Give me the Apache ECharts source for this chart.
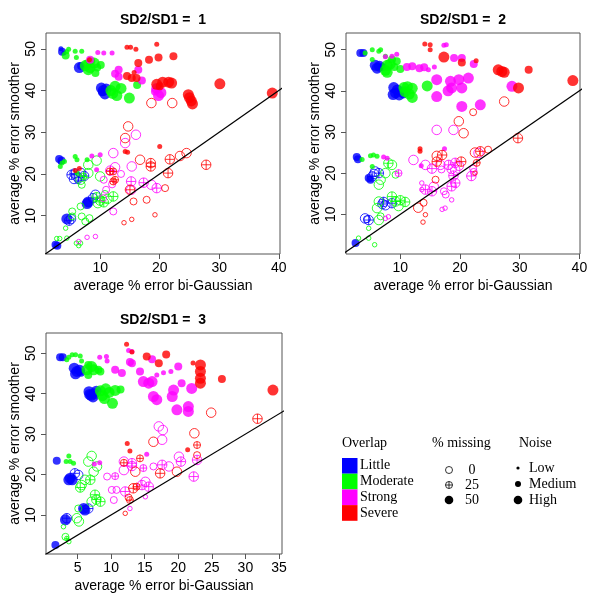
<!DOCTYPE html>
<html>
<head>
<meta charset="utf-8">
<script src="https://cdn.jsdelivr.net/npm/echarts@6/dist/echarts.min.js"></script>
<style>html,body{margin:0;padding:0;background:#fff}#c{width:600px;height:600px}</style>
</head>
<body>
<div id="c"></div>
<script>
// point format: [bi-Gaussian error, smoother error, % missing, noise level (1 Low, 2 Medium, 3 High)]
const panelTitles = ['SD2/SD1 =  1', 'SD2/SD1 =  2', 'SD2/SD1 =  3'];
const overlapLabels = ['Little', 'Moderate', 'Strong', 'Severe'];
const missingLabels = ['0', '25', '50'];
const noiseLabels = ['Low', 'Medium', 'High'];
const xTicks12 = [10, 20, 30, 40];
const xTicks3 = [5, 10, 15, 20, 25, 30, 35];
const yTicks = [10, 20, 30, 40, 50];
const identityRange = [0, 60];

const p1Little = [
 [3.4,50.0,50,1],[3.6,49.3,50,2],[3.9,49.0,50,1],
 [6.5,45.5,50,3],[6.8,45.9,50,2],
 [10.2,40.6,50,3],[10.5,40.0,50,3],[10.8,39.2,50,3],[11.0,40.4,50,3],[10.3,39.6,50,2],
 [3.1,23.6,50,2],[3.5,23.2,50,2],[3.3,22.8,50,1],
 [5.2,19.8,25,3],[5.7,20.1,25,3],[6.2,19.2,0,3],[6.8,20.2,0,3],[7.3,19.5,25,3],[5.6,18.8,0,3],[6.3,18.5,25,2],
 [8.0,13.3,50,3],[7.8,12.9,50,3],[8.8,14.2,25,3],[9.2,15.0,0,3],
 [4.4,9.2,50,3],[4.8,8.8,25,3],[5.1,9.2,0,3],
 [2.5,3.0,50,2],[2.8,2.8,50,2]
];
const p1Moderate = [
 [4.7,49.9,50,1],[4.4,49.3,50,1],[4.2,48.4,50,2],[5.8,49.4,50,1],[6.9,49.4,50,1],[6.0,47.9,50,1],
 [7.5,46.0,50,3],[8.3,45.5,50,3],[9.0,46.6,50,3],[9.5,45.5,50,2],[10.1,46.1,50,2],[8.5,47.0,50,2],[9.2,44.2,50,2],[8.0,45.0,50,3],[7.8,46.5,50,2],
 [11.8,40.0,50,3],[12.5,41.0,50,3],[13.5,40.5,50,3],[12.8,38.8,50,3],[14.9,38.2,50,3],[16.2,41.3,50,2],[12.1,39.3,50,3],
 [5.8,24.2,50,1],[6.1,23.4,50,1],[3.3,21.8,50,1],[3.6,22.6,50,1],[7.8,23.4,50,1],[6.1,20.2,50,1],[4.0,23.0,50,1],
 [8.0,22.2,0,3],[9.4,23.2,0,3],[8.0,20.2,0,3],[10.0,19.4,0,3],[6.7,18.6,0,3],[6.9,17.4,0,2],[7.2,19.4,25,2],
 [9.4,14.4,25,3],[10.0,13.6,25,3],[10.6,13.2,25,3],[11.2,14.0,0,3],[12.2,14.6,25,3],[9.6,13.0,0,3],[10.8,15.2,0,2],
 [6.7,12.2,0,2],[5.3,11.0,0,2],[5.3,9.8,0,2],[6.9,9.8,0,2],[8.2,9.4,0,2],[7.5,8.6,0,2],
 [4.2,7.0,0,1],[2.7,4.5,0,1],[3.2,4.5,0,1],[4.4,4.6,0,1],[6.0,3.4,0,1],[6.7,3.4,0,1],[6.4,2.8,0,1]
];
const p1Strong = [
 [9.6,49.1,50,1],[10.6,49.0,50,1],[12.0,49.0,50,1],[8.3,47.4,50,2],[12.5,44.0,50,2],[16.4,45.0,50,2],[17.0,42.4,50,2],[13.1,45.0,50,2],[13.1,43.3,50,2],
 [19.5,40.5,50,3],[19.8,38.8,50,3],[20.2,39.5,50,3],[19.2,39.8,50,2],
 [8.6,24.3,50,1],[10.0,24.6,50,1],[9.4,21.0,50,1],
 [14.2,27.4,0,3],[16.0,29.4,0,3],[12.2,25.0,0,3],
 [10.6,18.6,0,2],[11.7,20.8,25,3],[12.5,21.6,0,3],[13.5,20.0,0,2],[12.0,17.5,0,2],[11.0,16.2,0,2],
 [15.3,21.8,0,3],[15.2,18.2,25,3],[15.2,16.2,0,3],[17.3,17.9,25,3],[18.6,17.4,0,3],[19.5,16.6,25,3],
 [12.2,11.0,0,2],[10.5,14.2,0,2],
 [7.8,4.8,0,1],[9.2,5.0,0,1],[6.4,3.8,0,1]
];
const p1Severe = [
 [14.5,50.4,50,1],[15.1,50.4,50,1],[16.0,49.9,50,1],[19.5,51.1,50,1],
 [16.4,46.6,50,2],[18.2,47.4,50,2],[19.8,47.9,50,2],[22.3,48.2,50,2],
 [14.5,43.5,50,2],[15.3,43.0,50,2],[16.1,43.0,50,2],[15.7,44.3,50,1],[8.2,47.4,50,1],
 [19.5,41.5,50,3],[20.5,42.0,50,3],[21.5,42.0,50,3],[22.0,41.8,50,3],[20.0,41.0,50,2],
 [24.8,39.0,50,3],[25.0,38.3,50,3],[25.3,37.5,50,3],[25.5,36.8,50,3],
 [30.1,41.6,50,3],[38.9,39.4,50,3],
 [18.6,37.0,0,3],[22.1,37.0,0,3],
 [14.7,31.4,0,3],[14.2,28.6,0,3],
 [20.0,26.6,50,1],[14.2,25.4,50,1],[14.6,25.2,50,1],
 [21.7,23.5,25,3],[23.4,24.3,0,3],[24.5,25.0,0,3],[27.8,22.2,25,3],[18.5,22.6,25,3],[18.5,21.8,25,3],[16.7,23.4,0,3],[21.4,20.2,25,3],
 [20.9,16.6,0,2],[15.0,16.2,25,3],[15.6,13.4,0,2],[17.8,13.8,0,2],
 [14.0,8.3,0,1],[15.3,9.1,0,1],[19.2,10.2,0,1],
 [11.6,20.6,25,2],[12.2,20.6,25,2],[12.5,18.6,25,2],[12.2,18.2,25,2],
 [5.8,20.8,50,1],[6.5,21.3,50,1]
];

const p2Little = [
 [3.3,49.2,50,2],[3.8,49.2,50,2],
 [5.8,46.2,50,3],[6.5,46.0,50,3],[7.0,45.8,50,2],[6.1,45.5,50,3],
 [8.9,40.8,50,3],[9.2,39.5,50,3],[8.8,39.1,50,3],[9.8,39.0,50,3],[10.5,39.5,50,3],[9.5,40.2,50,3],
 [2.7,23.9,50,2],[2.9,23.4,50,2],
 [4.7,18.8,50,2],[5.0,18.4,50,2],[5.3,19.2,25,3],[5.8,20.4,0,3],[6.4,20.0,25,3],[5.6,19.8,0,3],
 [7.0,12.5,25,3],[7.5,12.2,0,3],[7.2,13.0,25,3],[8.6,12.7,25,3],
 [4.1,9.0,0,3],[4.7,8.6,25,3],[4.4,8.8,0,2],
 [2.5,3.0,50,2]
];
const p2Moderate = [
 [4.1,49.2,50,1],[5.3,50.0,50,1],[6.4,49.6,50,1],[6.7,50.0,50,1],[5.3,47.6,50,1],[7.5,48.4,50,1],[8.6,47.6,50,2],[9.4,47.2,50,2],
 [7.8,46.2,50,3],[7.5,45.0,50,3],[8.3,46.5,50,3],[9.0,45.8,50,2],[10.0,45.3,50,2],[7.8,44.5,50,3],
 [10.6,40.8,50,3],[11.2,41.0,50,3],[12.0,40.6,50,3],[11.5,39.2,50,3],[12.0,38.4,50,3],[10.8,39.8,50,3],[14.5,41.2,50,3],
 [5.0,24.2,50,1],[5.5,24.4,50,1],[6.1,24.1,50,1],[3.6,23.3,50,1],[5.3,21.6,50,1],
 [8.0,22.4,25,3],[8.6,22.0,0,3],[7.5,20.0,0,3],[6.7,18.4,0,3],[6.4,17.2,0,3],[9.2,19.6,0,2],
 [8.6,14.3,25,3],[9.2,13.1,25,3],[10.0,13.4,25,3],[10.8,13.0,25,3],[9.7,12.0,0,3],
 [6.4,13.1,0,3],[6.1,11.5,0,3],[6.4,8.6,0,3],[6.7,9.5,0,2],
 [4.7,6.6,0,1],[3.0,4.2,0,1],[5.7,2.6,0,1],[4.7,4.2,0,1]
];
const p2Strong = [
 [8.6,48.4,50,1],[9.4,48.9,50,1],[7.5,48.3,50,1],
 [11.1,45.8,50,2],[12.0,46.0,50,2],[13.2,45.5,50,2],[14.0,45.7,50,2],[15.7,45.8,50,1],[14.7,45.1,50,1],
 [17.3,51.1,50,1],[17.7,51.2,50,1],
 [16.1,42.7,50,3],[18.4,42.3,50,3],[18.6,40.7,50,3],[19.8,42.7,50,3],[21.4,43.1,50,3],[16.1,38.6,50,3],[20.3,40.7,50,3],[18.0,40.0,50,3],[20.3,36.2,50,3],[23.4,36.6,50,3],[28.7,41.1,50,3],
 [22.3,46.5,50,2],[19.0,48.0,50,2],[20.3,48.0,50,2],
 [16.1,30.5,0,3],[18.9,30.5,0,3],
 [7.2,23.9,50,1],[7.8,23.6,50,1],[13.5,21.8,50,1],[17.4,25.9,50,1],
 [12.2,23.2,0,3],[14.2,22.0,0,3],[15.3,21.1,25,3],[16.7,22.0,0,3],[16.9,20.9,0,2],[18.1,22.0,25,3],[18.6,21.0,0,3],[19.2,22.5,25,3],[19.8,21.8,0,3],
 [9.7,20.0,25,2],[14.2,16.0,25,3],[15.6,16.7,0,3],[15.3,15.6,25,3],[17.3,15.6,0,2],[17.6,14.8,0,2],[19.2,17.6,25,3],[18.6,16.8,25,3],[18.9,19.4,25,3],[19.2,20.8,0,3],
 [23.1,24.9,0,3],[21.9,19.3,25,3],[22.3,20.3,0,2],[22.2,21.1,0,2],
 [18.6,13.5,0,1],[17.5,11.5,0,1],[17.0,11.2,0,1],[13.6,17.6,0,1],[13.6,16.0,0,1],[8.0,9.4,0,1],[7.5,9.0,0,1]
];
const p2Severe = [
 [14.1,51.4,50,1],[15.0,51.2,50,1],[15.0,50.0,50,1],
 [17.3,48.2,50,3],[20.3,46.9,50,2],[22.7,47.3,50,1],
 [26.4,45.1,50,3],[27.0,44.7,50,3],[27.4,44.5,50,3],[31.5,45.1,50,2],[29.8,40.7,50,3],[38.9,42.5,50,3],
 [27.4,37.4,0,3],[22.2,34.8,0,2],[19.8,32.6,0,3],[20.6,29.7,0,3],
 [13.3,25.9,50,1],[13.3,25.3,50,1],
 [16.1,24.2,0,3],[17.0,24.4,25,3],[16.1,22.8,25,3],[20.2,22.8,25,3],[23.4,25.3,25,3],[24.7,25.7,0,2],[22.5,25.0,0,3],[29.7,28.5,25,3],
 [22.5,20.0,0,1],[22.8,22.5,25,2],[15.9,18.4,0,2],[13.0,11.6,0,3],[13.9,12.8,0,2],[14.2,9.9,0,1],[13.8,8.1,0,1]
];

const p3Little = [
 [2.4,49.0,50,2],[2.8,49.0,50,2],
 [4.5,46.3,50,3],[4.9,45.5,50,3],[5.3,45.8,50,3],[4.7,44.9,50,3],[5.5,45.2,50,2],
 [6.7,40.5,50,3],[7.0,39.6,50,3],[7.5,40.0,50,3],[7.8,40.6,50,3],[7.3,39.2,50,3],[6.8,39.8,50,3],
 [1.9,23.4,50,2],
 [3.9,19.1,50,3],[3.7,18.7,50,3],[4.2,18.7,50,3],[4.6,20.3,25,3],[5.1,19.9,0,3],
 [5.9,11.6,50,3],[6.1,11.2,50,3],[6.6,11.6,25,3],
 [3.2,8.8,50,3],[3.4,9.2,25,3],
 [1.7,2.6,50,2]
];
const p3Moderate = [
 [3.7,49.0,50,1],[4.2,49.6,50,1],[4.7,49.6,50,1],[5.4,49.3,50,1],[3.4,48.4,50,1],[5.6,48.1,50,1],
 [6.6,47.1,50,2],[7.1,46.7,50,3],[6.4,45.9,50,3],[7.4,45.9,50,3],[8.1,45.9,50,2],[6.6,44.6,50,2],[8.4,45.5,50,2],
 [8.4,40.7,50,3],[9.2,41.2,50,3],[9.7,40.3,50,3],[10.6,40.8,50,3],[11.4,41.0,50,2],[9.0,38.8,50,3],[10.2,37.6,50,3],[8.7,39.5,50,3],
 [3.7,24.6,50,1],[3.9,23.2,50,1],[3.3,23.2,50,1],[4.4,22.8,50,1],
 [6.6,23.2,0,3],[7.1,24.6,0,3],[7.9,22.0,0,3],[7.4,20.7,0,3],[6.1,18.7,0,3],[5.6,17.4,0,3],[5.4,16.8,25,3],[6.9,18.7,25,3],
 [7.6,15.0,25,3],[7.1,13.3,0,3],[8.4,13.3,25,3],[7.8,13.8,25,3],
 [5.1,11.6,0,2],[4.9,9.2,0,3],[5.2,8.4,0,3],[3.2,4.6,0,2],[3.4,4.2,25,1],[3.7,3.4,0,1],[2.9,7.1,0,1]
];
const p3Strong = [
 [8.3,49.0,50,1],[9.3,49.2,50,1],[9.4,48.1,50,1],[12.6,50.7,50,1],[13.1,50.4,50,1],
 [10.6,45.9,50,2],[11.6,45.1,50,2],[12.8,47.8,50,2],[14.3,45.5,50,2],
 [16.8,44.6,50,1],[17.8,45.2,50,1],[18.9,45.5,50,1],[20.0,46.7,50,2],
 [16.1,43.0,50,3],[14.8,43.0,50,3],[15.6,42.6,50,3],[16.3,39.3,50,3],[16.8,38.5,50,3],[19.3,40.9,50,3],[19.1,39.3,50,3],[19.8,36.0,50,3],[21.5,36.8,50,3],[21.5,35.6,50,3],[22.0,41.3,50,3],[20.5,42.6,50,2],[16.1,48.5,50,2],[13.1,47.5,50,2],
 [17.1,31.9,0,3],[17.7,31.0,0,3],[17.6,28.6,0,3],
 [7.5,22.6,50,1],[8.3,22.9,50,1],[15.3,25.0,50,1],
 [9.4,19.5,0,2],[10.6,19.6,25,2],[10.1,16.2,0,2],[10.8,16.2,0,2],[10.4,13.7,0,2],
 [11.9,23.2,0,3],[11.9,21.1,0,3],[12.1,15.8,25,3],[13.1,22.8,25,3],[13.1,22.1,25,3],[14.8,21.6,25,2],[14.6,17.4,25,3],[15.1,18.2,0,3],[15.6,17.0,25,3],[16.3,22.0,0,2],
 [17.6,22.4,25,3],[18.6,22.0,0,3],[20.1,24.4,0,3],[20.4,23.2,25,3],[22.3,19.5,25,3],[22.8,23.6,25,3],
 [12.8,11.6,0,1],[15.1,14.5,0,1]
];
const p3Severe = [
 [12.3,52.2,50,1],[13.1,50.3,50,1],
 [15.3,49.2,50,2],[17.1,47.5,50,2],[18.2,49.7,50,2],[22.2,47.6,50,1],
 [23.3,47.1,50,3],[23.3,45.5,50,3],[23.3,43.8,50,3],[23.3,42.6,50,3],[26.5,43.6,50,2],[34.1,40.9,50,3],
 [24.9,35.3,0,3],[31.8,33.8,25,3],
 [12.4,27.7,50,1],[12.8,25.8,50,1],[21.4,26.1,50,1],
 [11.9,22.9,25,2],[14.3,24.0,25,2],[13.6,20.7,0,3],[13.3,16.6,25,3],[13.8,17.0,25,2],[12.8,13.7,25,2],[12.6,14.3,0,2],[12.1,10.4,0,1],
 [16.3,28.1,0,3],[22.4,30.2,0,3],[22.8,27.3,25,2],[22.8,24.8,0,2],[17.3,20.3,25,3],[19.8,20.7,0,3]
];

// ---- styling / layout ----
const colors = ['#0000FF', '#00FF00', '#FF00FF', '#FF0000'];
const panels = [
  {data: [p1Little, p1Moderate, p1Strong, p1Severe], grid: {left: 46, top: 33, width: 234, height: 221}, x: [0.9, 40.2], y: [0.8, 53.8], xt: xTicks12},
  {data: [p2Little, p2Moderate, p2Strong, p2Severe], grid: {left: 346, top: 33, width: 234, height: 221}, x: [0.9, 40.1], y: [0.35, 54.05], xt: xTicks12},
  {data: [p3Little, p3Moderate, p3Strong, p3Severe], grid: {left: 46, top: 333, width: 236, height: 221}, x: [0.3, 35.45], y: [0.35, 55.0], xt: xTicks3}
];
const sizeFilled = {1: 5, 2: 8, 3: 11};
const sizeOpen = {1: 4.5, 2: 7, 3: 9.5};
const CROSS = 'path://M0,10A10,10 0 1 1 20,10A10,10 0 1 1 0,10ZM0,10L20,10M10,0L10,20';
const FONT = '"Liberation Sans", Arial, sans-serif';
const SERIF = '"Liberation Serif", "Times New Roman", serif';

function item(p, c) {
  const m = p[2], n = p[3];
  if (m === 50) return {value: [p[0], p[1]], symbol: 'circle', symbolSize: sizeFilled[n], itemStyle: {color: c, borderWidth: 0}};
  return {value: [p[0], p[1]], symbol: m === 25 ? CROSS : 'circle', symbolSize: sizeOpen[n],
    itemStyle: {color: 'rgba(0,0,0,0)', borderColor: c, borderWidth: 1}};
}

const grids = [], xAxes = [], yAxes = [], series = [];
panels.forEach((P, i) => {
  grids.push(Object.assign({show: true, borderColor: '#555', borderWidth: 1, backgroundColor: 'transparent'}, P.grid));
  xAxes.push({type: 'value', gridIndex: i, min: P.x[0], max: P.x[1],
    axisLine: {show: false}, splitLine: {show: false},
    axisTick: {show: true, length: 5, customValues: P.xt, lineStyle: {color: '#555'}},
    axisLabel: {customValues: P.xt, fontSize: 14, color: '#000', fontFamily: FONT, margin: 7},
    name: 'average % error bi-Gaussian', nameLocation: 'middle', nameGap: 25,
    nameTextStyle: {fontSize: 14, color: '#000', fontFamily: FONT}});
  yAxes.push({type: 'value', gridIndex: i, min: P.y[0], max: P.y[1],
    axisLine: {show: false}, splitLine: {show: false},
    axisTick: {show: true, length: 5, customValues: yTicks, lineStyle: {color: '#555'}},
    axisLabel: {customValues: yTicks, rotate: 90, fontSize: 14, color: '#000', fontFamily: FONT, margin: 8},
    name: 'average % error smoother', nameLocation: 'middle', nameGap: 24,
    nameTextStyle: {fontSize: 14, color: '#000', fontFamily: FONT}});
  P.data.forEach((arr, k) => {
    series.push({type: 'scatter', xAxisIndex: i, yAxisIndex: i, silent: true, z: 2,
      data: arr.map(p => item(p, colors[k]))});
  });
  series.push({type: 'line', xAxisIndex: i, yAxisIndex: i, silent: true, z: 5, clip: true,
    symbol: 'none', lineStyle: {color: '#000', width: 1.2},
    data: identityRange.map(v => [v, v])});
});

const graphic = [];
const titlePos = [[163, 20], [463, 20], [163, 320]];
panelTitles.forEach((t, i) => graphic.push({type: 'text', x: titlePos[i][0], y: titlePos[i][1],
  style: {text: t, font: 'bold 14px ' + FONT, fill: '#000', align: 'center', verticalAlign: 'middle'}}));

// legend
graphic.push({type: 'text', x: 342, y: 443, style: {text: 'Overlap', font: '14px ' + SERIF, fill: '#000', align: 'left', verticalAlign: 'middle'}});
overlapLabels.forEach((l, k) => {
  graphic.push({type: 'rect', shape: {x: 342, y: 458 + k * 15.7, width: 15.5, height: 15.7}, style: {fill: colors[k]}});
  graphic.push({type: 'text', x: 360, y: 465 + k * 16, style: {text: l, font: '14px ' + SERIF, fill: '#000', align: 'left', verticalAlign: 'middle'}});
});
graphic.push({type: 'text', x: 432, y: 443, style: {text: '% missing', font: '14px ' + SERIF, fill: '#000', align: 'left', verticalAlign: 'middle'}});
missingLabels.forEach((l, k) => {
  const cy = 470 + k * 15;
  if (k === 2) graphic.push({type: 'circle', shape: {cx: 449, cy: cy, r: 4.3}, style: {fill: '#000'}});
  else graphic.push({type: 'circle', shape: {cx: 449, cy: cy, r: 3.5}, style: {fill: 'none', stroke: '#000', lineWidth: 0.8}});
  if (k === 1) {
    graphic.push({type: 'line', shape: {x1: 445.5, y1: cy, x2: 452.5, y2: cy}, style: {stroke: '#000', lineWidth: 0.8}});
    graphic.push({type: 'line', shape: {x1: 449, y1: cy - 3.5, x2: 449, y2: cy + 3.5}, style: {stroke: '#000', lineWidth: 0.8}});
  }
  graphic.push({type: 'text', x: 472, y: cy, style: {text: l, font: '14px ' + SERIF, fill: '#000', align: 'center', verticalAlign: 'middle'}});
});
graphic.push({type: 'text', x: 519, y: 443, style: {text: 'Noise', font: '14px ' + SERIF, fill: '#000', align: 'left', verticalAlign: 'middle'}});
const noiseR = [1.6, 3, 4.3];
noiseLabels.forEach((l, k) => {
  const cy = 468 + k * 16;
  graphic.push({type: 'circle', shape: {cx: 518, cy: cy, r: noiseR[k]}, style: {fill: '#000'}});
  graphic.push({type: 'text', x: 529, y: cy, style: {text: l, font: '14px ' + SERIF, fill: '#000', align: 'left', verticalAlign: 'middle'}});
});

const chart = echarts.init(document.getElementById('c'), null, {renderer: 'canvas'});
chart.setOption({animation: false, backgroundColor: '#fff', grid: grids, xAxis: xAxes, yAxis: yAxes, series: series, graphic: graphic});
</script>
</body>
</html>
